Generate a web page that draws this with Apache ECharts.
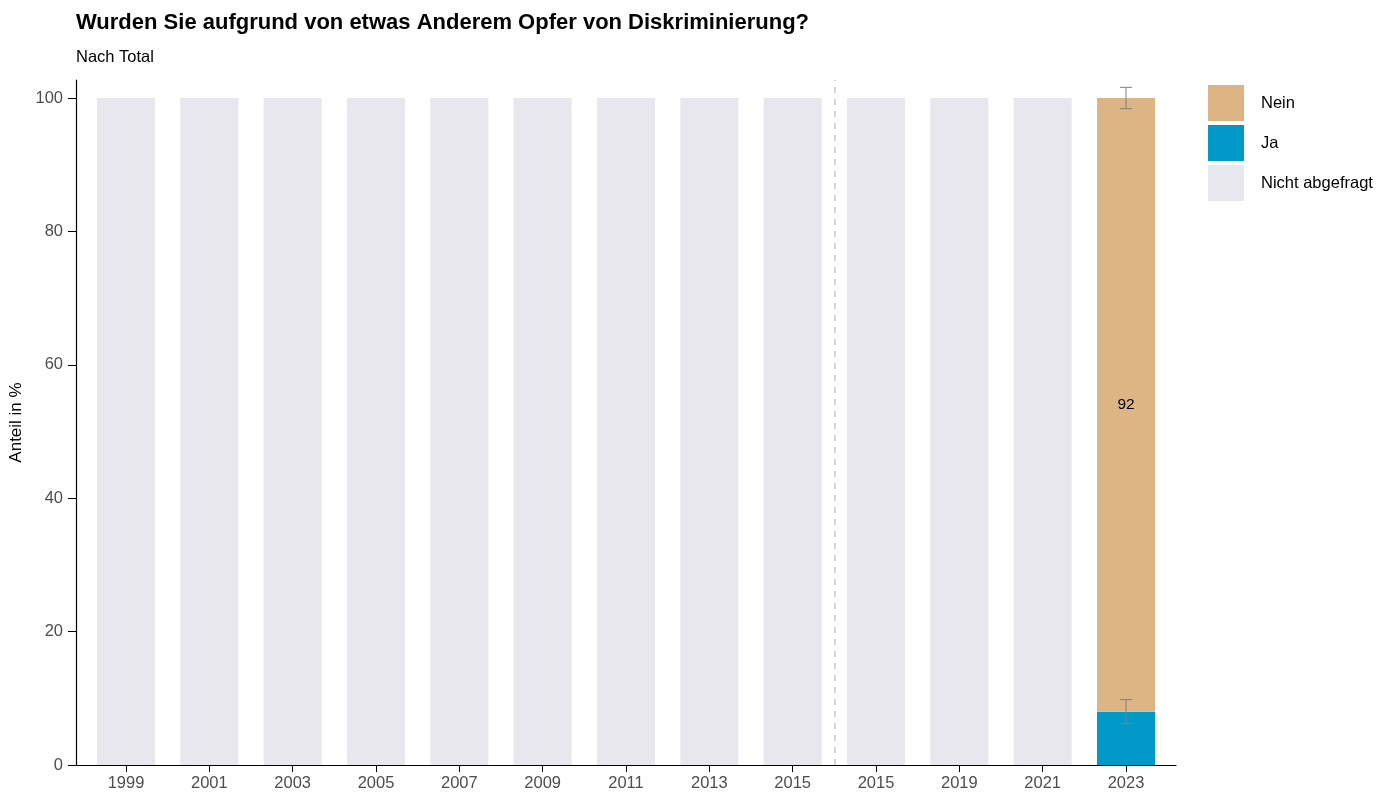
<!DOCTYPE html>
<html><head><meta charset="utf-8">
<script src="https://cdn.jsdelivr.net/npm/echarts@6/dist/echarts.min.js"></script>
<style>html,body{margin:0;padding:0;background:#fff}#c{width:1392px;height:797px}</style>
</head><body><div id="c"></div>
<script>
const categories = ['1999','2001','2003','2005','2007','2009','2011','2013','2015','2015','2019','2021','2023'];
const nichtAbgefragt = [100,100,100,100,100,100,100,100,100,100,100,100,0];
const ja = [0,0,0,0,0,0,0,0,0,0,0,0,8];
const nein = [0,0,0,0,0,0,0,0,0,0,0,0,92];
const errJa = [[12, 6.2, 9.8]];
const errNein = [[12, 98.4, 101.6]];
const yTicks = [0,20,40,60,80,100];
const xTicks = categories.map((c, i) => i);
const breakAt = 8.5;

// rows: [value, categoryIndex] so the value column is the stacked one
const rows = arr => arr.map((v, i) => [v, i]);

const chart = echarts.init(document.getElementById('c'));
const font = 'Liberation Sans, Arial, sans-serif';
function errRender(params, api) {
  const x = api.value(0), lo = api.value(1), hi = api.value(2);
  const p1 = api.coord([x, lo]), p2 = api.coord([x, hi]);
  const w = 6;
  const st = {stroke: '#808080', lineWidth: 1};
  return {type: 'group', children: [
    {type: 'line', shape: {x1: p1[0], y1: p1[1], x2: p2[0], y2: p2[1]}, style: st},
    {type: 'line', shape: {x1: p1[0]-w, y1: p1[1], x2: p1[0]+w, y2: p1[1]}, style: st},
    {type: 'line', shape: {x1: p2[0]-w, y1: p2[1], x2: p2[0]+w, y2: p2[1]}, style: st}
  ]};
}
const barCommon = {type: 'bar', stack: 'a', barWidth: 58, encode: {x: 1, y: 0}};
chart.setOption({
  animation: false,
  textStyle: {fontFamily: font},
  title: {
    text: 'Wurden Sie aufgrund von etwas Anderem Opfer von Diskriminierung?',
    subtext: 'Nach Total',
    left: 76, top: 12, padding: 0,
    textStyle: {fontSize: 22, fontWeight: 'bold', color: '#000', fontFamily: font},
    subtextStyle: {fontSize: 16.5, color: '#000', fontFamily: font},
    itemGap: 15
  },
  legend: {
    orient: 'vertical', left: 1208, top: 85, padding: 0,
    itemWidth: 36, itemHeight: 36, itemGap: 4,
    icon: 'rect',
    textStyle: {fontSize: 16.5, color: '#000', padding: [0,0,0,12]},
    data: ['Nein','Ja','Nicht abgefragt']
  },
  grid: {left: 76, right: 216, top: 80, bottom: 32, outerBoundsMode: 'none'},
  xAxis: {
    type: 'value', min: -0.6, max: 12.6,
    axisLine: {show: true, onZero: false, lineStyle: {color: '#000', width: 1.2}},
    axisTick: {show: true, length: 7, lineStyle: {color: '#000'}, customValues: xTicks},
    axisLabel: {fontSize: 16.5, color: '#4d4d4d', margin: 10, customValues: xTicks,
      formatter: v => categories[Math.round(v)]},
    splitLine: {show: false}
  },
  yAxis: {
    type: 'value', min: 0, max: 102.7, interval: 20,
    name: 'Anteil in %', nameLocation: 'middle', nameGap: 49,
    nameTextStyle: {fontSize: 17, color: '#000'},
    axisLine: {show: true, onZero: false, lineStyle: {color: '#000', width: 1.2}},
    axisTick: {show: true, length: 8, lineStyle: {color: '#000'}, customValues: yTicks},
    axisLabel: {fontSize: 16.5, color: '#4d4d4d', margin: 13, customValues: yTicks},
    splitLine: {show: false}
  },
  series: [
    Object.assign({name: 'Nicht abgefragt', data: rows(nichtAbgefragt), itemStyle: {color: '#E8E7EE'}}, barCommon),
    Object.assign({name: 'Ja', data: rows(ja), itemStyle: {color: '#0099C8'}}, barCommon),
    Object.assign({name: 'Nein', data: rows(nein), itemStyle: {color: '#DDB585'},
      label: {show: true, position: 'inside', fontSize: 15.5, color: '#000',
        formatter: p => (p.value[0] ? String(p.value[0]) : '')}}, barCommon),
    {type: 'custom', renderItem: errRender, data: errJa, z: 10, silent: true},
    {type: 'custom', renderItem: errRender, data: errNein, z: 10, silent: true},
    {type: 'line', data: [], silent: true,
     markLine: {symbol: 'none', silent: true, label: {show: false},
       lineStyle: {type: [6, 6], color: '#c8c8c8', width: 1.5},
       data: [{xAxis: breakAt}]}}
  ]
});
</script></body></html>
